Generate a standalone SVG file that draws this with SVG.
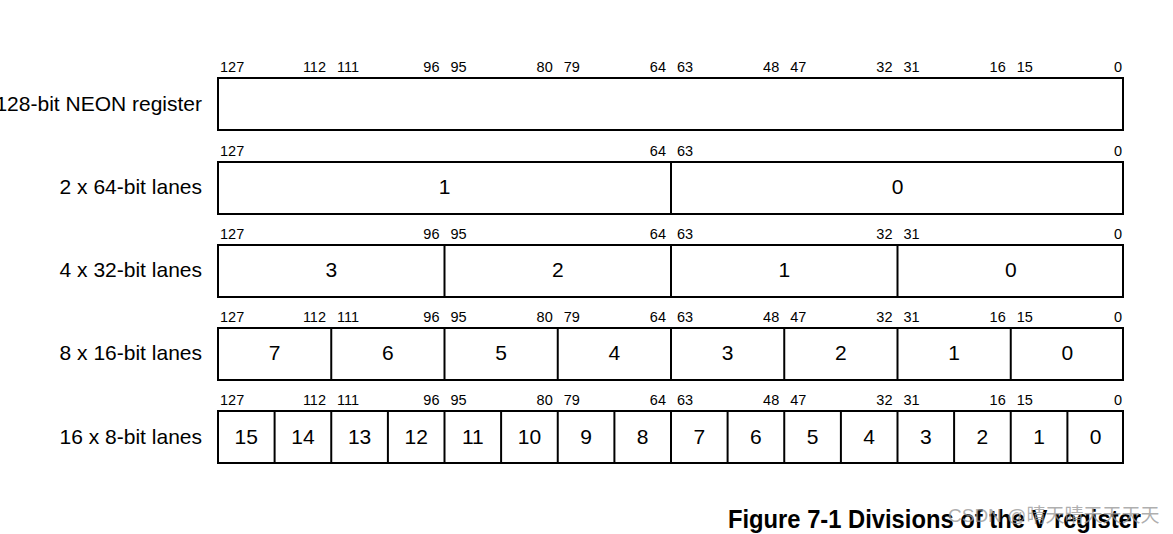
<svg xmlns="http://www.w3.org/2000/svg" width="1173" height="534" viewBox="0 0 1173 534">
<style>
.box{fill:#fff;stroke:#000;stroke-width:2}
.div{stroke:#000;stroke-width:2}
.lbl{font-family:"Liberation Sans",Arial,sans-serif;font-size:21px;fill:#000;text-anchor:end}
.bit{font-family:"Liberation Sans",Arial,sans-serif;font-size:14.5px;fill:#000}
.be{text-anchor:end}
.num{font-family:"Liberation Sans",Arial,sans-serif;font-size:21px;fill:#000;text-anchor:middle}
.cap{font-family:"Liberation Sans",Arial,sans-serif;font-size:25px;font-weight:bold;fill:#000}
.wm{font-family:"Liberation Sans","Noto Sans CJK SC",sans-serif;font-size:19px;fill:#999;fill-opacity:0.8}
</style>
<rect width="1173" height="534" fill="#fff"/>

<g id="row128">
<text class="lbl" x="202" y="110.5">128-bit NEON register</text>
<rect class="box" x="218" y="78" width="905" height="52"/>
<g class="bit">
<text x="220" y="72">127</text>
<text class="be" x="326" y="72">112</text><text x="337" y="72">111</text>
<text class="be" x="439.5" y="72">96</text><text x="450.5" y="72">95</text>
<text class="be" x="552.75" y="72">80</text><text x="563.75" y="72">79</text>
<text class="be" x="666" y="72">64</text><text x="677" y="72">63</text>
<text class="be" x="779.25" y="72">48</text><text x="790.25" y="72">47</text>
<text class="be" x="892.5" y="72">32</text><text x="903.5" y="72">31</text>
<text class="be" x="1005.75" y="72">16</text><text x="1016.75" y="72">15</text>
<text class="be" x="1122" y="72">0</text>
</g>
</g>

<g id="row64">
<text class="lbl" x="202" y="194">2 x 64-bit lanes</text>
<rect class="box" x="218" y="162" width="905" height="52"/>
<line class="div" x1="671" y1="162" x2="671" y2="214"/>
<g class="bit">
<text x="220" y="156">127</text>
<text class="be" x="666" y="156">64</text><text x="677" y="156">63</text>
<text class="be" x="1122" y="156">0</text>
</g>
<g class="num">
<text x="444.5" y="193.5">1</text>
<text x="897.5" y="193.5">0</text>
</g>
</g>

<g id="row32">
<text class="lbl" x="202" y="277">4 x 32-bit lanes</text>
<rect class="box" x="218" y="245" width="905" height="52"/>
<line class="div" x1="444.5" y1="245" x2="444.5" y2="297"/>
<line class="div" x1="671" y1="245" x2="671" y2="297"/>
<line class="div" x1="897.5" y1="245" x2="897.5" y2="297"/>
<g class="bit">
<text x="220" y="239">127</text>
<text class="be" x="439.5" y="239">96</text><text x="450.5" y="239">95</text>
<text class="be" x="666" y="239">64</text><text x="677" y="239">63</text>
<text class="be" x="892.5" y="239">32</text><text x="903.5" y="239">31</text>
<text class="be" x="1122" y="239">0</text>
</g>
<g class="num">
<text x="331.25" y="276.5">3</text>
<text x="557.75" y="276.5">2</text>
<text x="784.25" y="276.5">1</text>
<text x="1010.75" y="276.5">0</text>
</g>
</g>

<g id="row16">
<text class="lbl" x="202" y="360">8 x 16-bit lanes</text>
<rect class="box" x="218" y="328" width="905" height="52"/>
<g class="div">
<line x1="331.25" y1="328" x2="331.25" y2="380"/>
<line x1="444.5" y1="328" x2="444.5" y2="380"/>
<line x1="557.75" y1="328" x2="557.75" y2="380"/>
<line x1="671" y1="328" x2="671" y2="380"/>
<line x1="784.25" y1="328" x2="784.25" y2="380"/>
<line x1="897.5" y1="328" x2="897.5" y2="380"/>
<line x1="1010.75" y1="328" x2="1010.75" y2="380"/>
</g>
<g class="bit">
<text x="220" y="322">127</text>
<text class="be" x="326" y="322">112</text><text x="337" y="322">111</text>
<text class="be" x="439.5" y="322">96</text><text x="450.5" y="322">95</text>
<text class="be" x="552.75" y="322">80</text><text x="563.75" y="322">79</text>
<text class="be" x="666" y="322">64</text><text x="677" y="322">63</text>
<text class="be" x="779.25" y="322">48</text><text x="790.25" y="322">47</text>
<text class="be" x="892.5" y="322">32</text><text x="903.5" y="322">31</text>
<text class="be" x="1005.75" y="322">16</text><text x="1016.75" y="322">15</text>
<text class="be" x="1122" y="322">0</text>
</g>
<g class="num">
<text x="274.6" y="360">7</text>
<text x="387.9" y="360">6</text>
<text x="501.1" y="360">5</text>
<text x="614.4" y="360">4</text>
<text x="727.6" y="360">3</text>
<text x="840.9" y="360">2</text>
<text x="954.1" y="360">1</text>
<text x="1067.4" y="360">0</text>
</g>
</g>

<g id="row8">
<text class="lbl" x="202" y="443.5">16 x 8-bit lanes</text>
<rect class="box" x="218" y="411" width="905" height="52"/>
<g class="div">
<line x1="274.6" y1="411" x2="274.6" y2="463"/>
<line x1="331.25" y1="411" x2="331.25" y2="463"/>
<line x1="387.9" y1="411" x2="387.9" y2="463"/>
<line x1="444.5" y1="411" x2="444.5" y2="463"/>
<line x1="501.1" y1="411" x2="501.1" y2="463"/>
<line x1="557.75" y1="411" x2="557.75" y2="463"/>
<line x1="614.4" y1="411" x2="614.4" y2="463"/>
<line x1="671" y1="411" x2="671" y2="463"/>
<line x1="727.6" y1="411" x2="727.6" y2="463"/>
<line x1="784.25" y1="411" x2="784.25" y2="463"/>
<line x1="840.9" y1="411" x2="840.9" y2="463"/>
<line x1="897.5" y1="411" x2="897.5" y2="463"/>
<line x1="954.1" y1="411" x2="954.1" y2="463"/>
<line x1="1010.75" y1="411" x2="1010.75" y2="463"/>
<line x1="1067.4" y1="411" x2="1067.4" y2="463"/>
</g>
<g class="bit">
<text x="220" y="405">127</text>
<text class="be" x="326" y="405">112</text><text x="337" y="405">111</text>
<text class="be" x="439.5" y="405">96</text><text x="450.5" y="405">95</text>
<text class="be" x="552.75" y="405">80</text><text x="563.75" y="405">79</text>
<text class="be" x="666" y="405">64</text><text x="677" y="405">63</text>
<text class="be" x="779.25" y="405">48</text><text x="790.25" y="405">47</text>
<text class="be" x="892.5" y="405">32</text><text x="903.5" y="405">31</text>
<text class="be" x="1005.75" y="405">16</text><text x="1016.75" y="405">15</text>
<text class="be" x="1122" y="405">0</text>
</g>
<g class="num">
<text x="246.3" y="443.5">15</text>
<text x="302.9" y="443.5">14</text>
<text x="359.6" y="443.5">13</text>
<text x="416.2" y="443.5">12</text>
<text x="472.8" y="443.5">11</text>
<text x="529.4" y="443.5">10</text>
<text x="586.1" y="443.5">9</text>
<text x="642.7" y="443.5">8</text>
<text x="699.3" y="443.5">7</text>
<text x="755.9" y="443.5">6</text>
<text x="812.6" y="443.5">5</text>
<text x="869.2" y="443.5">4</text>
<text x="925.8" y="443.5">3</text>
<text x="982.4" y="443.5">2</text>
<text x="1039.1" y="443.5">1</text>
<text x="1095.7" y="443.5">0</text>
</g>
</g>

<g id="caption">
<text class="cap" x="728" y="528" textLength="413" lengthAdjust="spacingAndGlyphs">Figure 7-1 Divisions of the V register</text>
<text class="wm" x="948" y="522">CSDN @晴天晴天天天天</text>
</g>
</svg>
